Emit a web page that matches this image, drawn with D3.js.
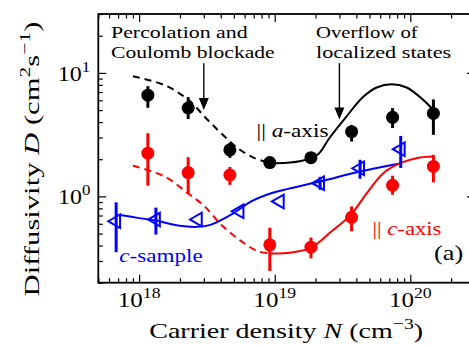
<!DOCTYPE html>
<html>
<head>
<meta charset="utf-8">
<script src="https://cdn.jsdelivr.net/npm/d3@7"></script>
<style>
  html, body { margin: 0; padding: 0; background: #fff; }
</style>
</head>
<body>
<div id="chart"></div>
<script>
// Carrier density of the samples (cm^-3)
const aSampleN = [1.16e18, 2.3e18, 4.67e18, 9.2e18, 1.85e19, 3.69e19, 7.4e19, 1.48e20];
// Diffusivity along a-axis (black) and c-axis (red), with error bar bounds
const aAxisD = [6.6, 5.2, 2.38, 1.88, 2.06, 3.34, 4.37, 4.7];
const aAxisLo = [5.22, 4.23, 2.05, 1.82, 1.87, 2.78, 3.58, 3.15];
const aAxisHi = [7.81, 6.37, 2.72, 1.94, 2.28, 3.79, 5.19, 6.1];
const cAxisD = [2.24, 1.56, 1.49, 0.405, 0.388, 0.677, 1.23, 1.75];
const cAxisLo = [1.22, 1.05, 1.24, 0.249, 0.315, 0.522, 1.03, 1.3];
const cAxisHi = [3.25, 2.08, 1.73, 0.558, 0.465, 0.83, 1.47, 2.17];
// c-sample (blue triangles)
const cSampleN = [6.77e17, 1.33e18, 2.71e18, 5.5e18, 1.09e19, 2.16e19, 4.26e19, 8.5e19];
const cSampleD = [0.629, 0.649, 0.65, 0.757, 0.91, 1.28, 1.69, 2.41];
const cSampleLo = [0.353, 0.491, null, null, null, 1.13, 1.39, 1.7];
const cSampleHi = [0.895, 0.811, null, null, null, 1.44, 1.98, 3.09];

// model curves [N, D]
const aDashed = [[9.0e17, 9.4], [1.54e18, 7.96], [2.32e18, 6.02], [3.21e18, 4.15], [4.27e18, 3.05],
  [5.35e18, 2.45], [7.1e18, 2.04], [9.4e18, 1.86]];
const aSolid = [[9.4e18, 1.86], [1.3e19, 1.88], [1.8e19, 2.02], [2.1e19, 2.2], [2.55e19, 3.0],
  [3.3e19, 4.29], [4.5e19, 6.4], [5.65e19, 7.62], [7.29e19, 8.11], [9.4e19, 7.62],
  [1.25e20, 6.02], [1.48e20, 5.0]];
const cDashed = [[9.0e17, 1.77], [1.54e18, 1.45], [2.29e18, 1.06], [3.04e18, 0.83], [4.03e18, 0.59],
  [5.66e18, 0.434], [7.5e18, 0.36], [9.4e18, 0.345]];
const cSolid = [[9.4e18, 0.345], [1.3e19, 0.35], [1.85e19, 0.384], [2.55e19, 0.507], [3.65e19, 0.712],
  [4.77e19, 1.06], [6.32e19, 1.54], [8.4e19, 1.86], [1.11e20, 2.04], [1.48e20, 2.1]];
const cSampleFit = [[7.05e17, 0.711], [9.78e17, 0.67], [1.33e18, 0.637], [1.93e18, 0.581],
  [2.71e18, 0.567], [3.4e18, 0.591], [4.77e18, 0.711], [6.71e18, 0.911], [9.42e18, 1.06],
  [1.25e19, 1.15], [2.16e19, 1.32], [4.26e19, 1.59], [8.15e19, 1.84]];

const xTicksMajor = [1e18, 1e19, 1e20];
const xTickExp = ["18", "19", "20"];
const yTicksMajor = [1, 10];
const yTickExp = ["0", "1"];

const width = 469, height = 345;
const plotL = 98.3, plotR = 475, plotT = 14, plotB = 282.7;
const serif = "'Liberation Serif', 'Times New Roman', serif";

const svg = d3.select("#chart").append("svg")
  .attr("width", width).attr("height", height)
  .style("display", "block")
  .attr("font-family", serif);

const x = d3.scaleLog().domain([5e17, 3e20]).range([plotL, plotR]);
const y = d3.scaleLog().domain([0.2, 30]).range([plotB, plotT]);

// ticks (all pointing inward)
function drawTicks(axisGen, tx, ty, scale) {
  const ticks = scale.ticks();
  const major = ticks.filter(t => Math.abs(Math.log10(t) - Math.round(Math.log10(t))) < 1e-9);
  const minor = ticks.filter(t => !major.includes(t));
  svg.append("g").attr("transform", `translate(${tx},${ty})`)
    .call(axisGen(scale).tickValues(minor).tickSize(-4.5).tickFormat(""))
    .call(g => g.select(".domain").remove());
  svg.append("g").attr("transform", `translate(${tx},${ty})`)
    .call(axisGen(scale).tickValues(major).tickSize(-8).tickFormat(""))
    .call(g => g.select(".domain").remove());
}
drawTicks(d3.axisBottom, 0, plotB, x);
drawTicks(d3.axisTop, 0, plotT, x);
drawTicks(d3.axisLeft, plotL, 0, y);
drawTicks(d3.axisRight, plotR, 0, y);
svg.selectAll(".tick line").attr("stroke", "#000").attr("stroke-width", 1.2);

svg.append("rect")
  .attr("x", plotL).attr("y", plotT)
  .attr("width", plotR - plotL).attr("height", plotB - plotT)
  .attr("fill", "none").attr("stroke", "#000").attr("stroke-width", 1.8);

// text helper: builds a text and stretches it horizontally to the width seen in the figure
function fitText(tx, ty, opts, build) {
  const g = svg.append("g").attr("transform", `translate(${tx},${ty})` + (opts.rotate ? ` rotate(${opts.rotate})` : ""));
  const t = g.append("text").attr("font-family", serif)
    .attr("font-size", opts.size)
    .attr("text-anchor", opts.anchor || "start")
    .attr("fill", opts.color || "#000");
  build(t);
  const w = t.node().getBBox().width;
  if (opts.width && w > 0) t.attr("transform", `scale(${opts.width / w},1)`);
  return t;
}
function sup(t, s, size, up) {
  t.append("tspan").attr("font-size", size).attr("dy", -up).text(s);
  return up;
}

// tick labels
xTicksMajor.forEach((t, i) => {
  fitText(x(t), plotB + 24, { size: 22, anchor: "middle", width: 43 }, el => {
    el.append("tspan").text("10");
    sup(el, xTickExp[i], 15.5, 9);
  });
});
yTicksMajor.forEach((t, i) => {
  fitText(plotL - 8, y(t) + 8, { size: 22, anchor: "end", width: 32.5 }, el => {
    el.append("tspan").text("10");
    sup(el, yTickExp[i], 15.5, 9);
  });
});

// axis labels
fitText((plotL + plotR) / 2 - 0.5, 338, { size: 22, anchor: "middle", width: 274 }, el => {
  el.append("tspan").text("Carrier density ");
  el.append("tspan").attr("font-style", "italic").text("N");
  el.append("tspan").text(" (cm");
  sup(el, "−3", 15.5, 9);
  el.append("tspan").attr("dy", 9).text(")");
});
fitText(39, 159, { size: 22, anchor: "middle", width: 275, rotate: -90 }, el => {
  el.append("tspan").text("Diffusivity ");
  el.append("tspan").attr("font-style", "italic").text("D");
  el.append("tspan").text(" (cm");
  sup(el, "2", 15.5, 9);
  el.append("tspan").attr("dy", 9).text("s");
  sup(el, "−1", 15.5, 9);
  el.append("tspan").attr("dy", 9).text(")");
});

// curves
const line = d3.line().x(d => x(d[0])).y(d => y(d[1])).curve(d3.curveCatmullRom);
function curve(data, color, dashed) {
  svg.append("path").attr("d", line(data))
    .attr("fill", "none").attr("stroke", color).attr("stroke-width", 2)
    .attr("stroke-dasharray", dashed ? "7,5" : null);
}
curve(cSampleFit, "#0000ff", false);
curve(cDashed, "#ff0000", true);
curve(cSolid, "#ff0000", false);
curve(aDashed, "#000", true);
curve(aSolid, "#000", false);

// error bars + markers
function errorBars(ns, lo, hi, color) {
  svg.append("g").selectAll("line")
    .data(ns.map((n, i) => [n, lo[i], hi[i]]).filter(d => d[1] != null))
    .join("line")
    .attr("x1", d => x(d[0])).attr("x2", d => x(d[0]))
    .attr("y1", d => y(d[1])).attr("y2", d => y(d[2]))
    .attr("stroke", color).attr("stroke-width", 3);
}
errorBars(aSampleN, cAxisLo, cAxisHi, "#ff0000");
svg.append("g").selectAll("circle").data(aSampleN).join("circle")
  .attr("cx", d => x(d)).attr("cy", (d, i) => y(cAxisD[i])).attr("r", 6.5)
  .attr("fill", "#ff0000");

errorBars(aSampleN, aAxisLo, aAxisHi, "#000");
svg.append("g").selectAll("circle").data(aSampleN).join("circle")
  .attr("cx", d => x(d)).attr("cy", (d, i) => y(aAxisD[i])).attr("r", 6.5)
  .attr("fill", "#000");

errorBars(cSampleN, cSampleLo, cSampleHi, "#0000ff");
const tri = d3.symbol().type(d3.symbolTriangle).size(80);
svg.append("g").selectAll("path").data(cSampleN).join("path")
  .attr("d", tri)
  .attr("transform", (d, i) => `translate(${x(d)},${y(cSampleD[i])}) rotate(-90)`)
  .attr("fill", "none").attr("stroke", "#0000ff").attr("stroke-width", 2);

// annotation arrows
const arrows = [[3e18, 12, 5.0], [3e19, 12, 4.2]];
arrows.forEach(([n, d0, d1]) => {
  const ax = x(n), ay0 = y(d0), ay1 = y(d1);
  svg.append("line").attr("x1", ax).attr("x2", ax).attr("y1", ay0).attr("y2", ay1 - 10)
    .attr("stroke", "#000").attr("stroke-width", 1.4);
  svg.append("path")
    .attr("d", `M${ax - 5},${ay1 - 12} L${ax + 5},${ay1 - 12} L${ax},${ay1} Z`)
    .attr("fill", "#000");
});

// annotation texts
function label(tx, ty, parts, size, w, color) {
  return fitText(tx, ty, { size: size, width: w, color: color }, el => {
    parts.forEach(p => {
      const s = el.append("tspan").text(p[0]);
      if (p[1]) s.attr("font-style", "italic");
    });
  });
}
label(111, 37.7, [["Percolation and"]], 17.5, 137);
label(111, 57.7, [["Coulomb blockade"]], 17.5, 164);
label(316, 37.7, [["Overflow of"]], 17.5, 102);
label(316, 57.7, [["localized states"]], 17.5, 135.5);
label(256.5, 136.7, [["|| "], ["a", true], ["-axis"]], 19, 72);
label(372.5, 235, [["|| "], ["c", true], ["-axis"]], 19, 69, "#ff0000");
label(119.3, 261.7, [["c", true], ["-sample"]], 19, 83.4, "#0000ff");
label(434, 260, [["(a)"]], 22, 29.3);
</script>
</body>
</html>
